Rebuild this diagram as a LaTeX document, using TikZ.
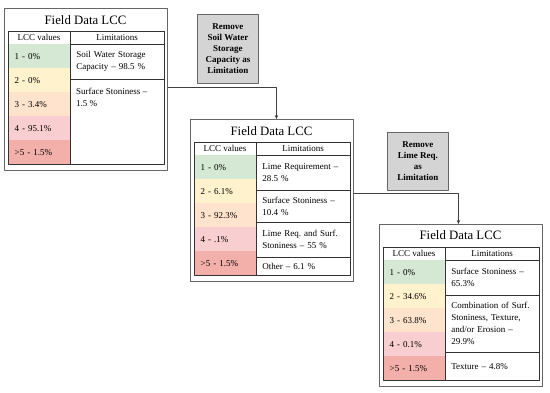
\documentclass[tikz,border=0pt]{standalone}
\usepackage{fontspec}
\setmainfont{Liberation Serif}
\usetikzlibrary{arrows.meta}
\frenchspacing
\definecolor{lccone}{HTML}{D5E8D4}
\definecolor{lcctwo}{HTML}{FFF2CC}
\definecolor{lccthree}{HTML}{FFE3CC}
\definecolor{lccfour}{HTML}{F9CED0}
\definecolor{lccfive}{HTML}{F3B0AA}
\definecolor{removegray}{HTML}{D4D4D4}
\begin{document}
\begin{tikzpicture}[x=1pt,y=-1pt,line cap=round,line join=round,
                    font=\fontsize{9}{12}\selectfont,
    frame/.style={draw=black!60,line width=0.9pt,anchor=north west,
      inner sep=0pt,minimum width=163pt,minimum height=162pt},
    title/.style={font=\fontsize{12.8}{14}\selectfont},
    head/.style={draw=black!80,line width=0.6pt,anchor=north west,
      inner sep=0pt,minimum height=13pt,minimum width=#1},
    lcc/.style={fill=#1,anchor=north west,inner xsep=7pt,inner ysep=0pt,
      minimum height=24pt,text width=48.5pt,align=left},
    lim/.style={draw=black!80,line width=0.6pt,anchor=north west,
      inner xsep=6pt,inner ysep=0pt,minimum height=#1,text width=81.5pt,
      align=left},
    limtext/.style={anchor=north west,inner sep=0pt,align=left},
    table/.style={draw=black!80,line width=0.6pt,anchor=north west,
      inner sep=0pt,minimum width=156pt,minimum height=133pt},
    remove/.style={draw=black!60,line width=0.9pt,fill=removegray,
      anchor=north west,inner sep=0pt,minimum width=61pt,
      minimum height=#1,align=center,
      font=\bfseries\fontsize{9}{11}\selectfont},
    conn/.style={draw=black!75,line width=0.7pt,
      -{Stealth[length=4pt,width=3.5pt]}}]
  \useasboundingbox (0,0) rectangle (550,392);

  % First table: field data
  \node[frame] (fd1) at (4,8) {};
  \node[title] (ttl1) at (85.5,20) {Field Data LCC};
  \node[head=62.5pt] (hv1) at (7.5,31) {LCC values};
  \node[head=93.5pt] (hl1) at (70,31) {Limitations};
  \node[lcc=lccone] (c1a) at (7.5,44) {1 - 0\%};
  \node[lcc=lcctwo] (c1b) at (7.5,68) {2 - 0\%};
  \node[lcc=lccthree] (c1c) at (7.5,92) {3 - 3.4\%};
  \node[lcc=lccfour] (c1d) at (7.5,116) {4 - 95.1\%};
  \node[lcc=lccfive] (c1e) at (7.5,140) {>5 - 1.5\%};
  \node[lim=34.5pt] (l1a) at (70,44)
    {Soil Water Storage\\Capacity -- 98.5 \%};
  \node[lim=85.5pt] (l1b) at (70,78.5) {};
  \node[limtext] (l1bt) at ([xshift=6pt,yshift=-9pt]l1b.north west)
    {Surface Stoniness --\\1.5 \%};
  \node[table] (t1) at (7.5,31) {};

  % Second table: without soil water storage capacity
  \node[frame] (fd2) at (190,119) {};
  \node[title] (ttl2) at (271.5,131) {Field Data LCC};
  \node[head=62.5pt] (hv2) at (193.5,142) {LCC values};
  \node[head=93.5pt] (hl2) at (256,142) {Limitations};
  \node[lcc=lccone] (c2a) at (193.5,155) {1 - 0\%};
  \node[lcc=lcctwo] (c2b) at (193.5,179) {2 - 6.1\%};
  \node[lcc=lccthree] (c2c) at (193.5,203) {3 - 92.3\%};
  \node[lcc=lccfour] (c2d) at (193.5,227) {4 - .1\%};
  \node[lcc=lccfive] (c2e) at (193.5,251) {>5 - 1.5\%};
  \node[lim=35pt] (l2a) at (256,155) {Lime Requirement --\\28.5 \%};
  \node[lim=32pt] (l2b) at (256,190) {Surface Stoniness --\\10.4 \%};
  \node[lim=35pt] (l2c) at (256,222)
    {Lime Req. and Surf.\\Stoniness -- 55 \%};
  \node[lim=18pt] (l2d) at (256,257) {Other -- 6.1 \%};
  \node[table] (t2) at (193.5,142) {};

  % Third table: without lime requirement
  \node[frame] (fd3) at (379,224) {};
  \node[title] (ttl3) at (460.5,235) {Field Data LCC};
  \node[head=62.5pt] (hv3) at (382.5,247) {LCC values};
  \node[head=93.5pt] (hl3) at (445,247) {Limitations};
  \node[lcc=lccone] (c3a) at (382.5,260) {1 - 0\%};
  \node[lcc=lcctwo] (c3b) at (382.5,284) {2 - 34.6\%};
  \node[lcc=lccthree] (c3c) at (382.5,308) {3 - 63.8\%};
  \node[lcc=lccfour] (c3d) at (382.5,332) {4 - 0.1\%};
  \node[lcc=lccfive] (c3e) at (382.5,356) {>5 - 1.5\%};
  \node[lim=35pt] (l3a) at (445,260) {Surface Stoniness --\\65.3\%};
  \node[lim=57pt] (l3b) at (445,295)
    {Combination of Surf.\\Stoniness, Texture,\\and/or Erosion --\\29.9\%};
  \node[lim=28pt] (l3c) at (445,352) {Texture -- 4.8\%};
  \node[table] (t3) at (382.5,247) {};

  % Steps between the tables
  \node[remove=69pt] (rm1) at (197,14)
    {Remove\\Soil Water\\Storage\\Capacity as\\Limitation};
  \node[remove=58pt] (rm2) at (387,132)
    {Remove\\Lime Req.\\as\\Limitation};
  \draw[conn] ([yshift=2pt]fd1.east) -| ([xshift=4.5pt]fd2.north);
  \draw[conn] ([yshift=7pt]fd2.east) -| ([xshift=-2.5pt]fd3.north);
\end{tikzpicture}
\end{document}
